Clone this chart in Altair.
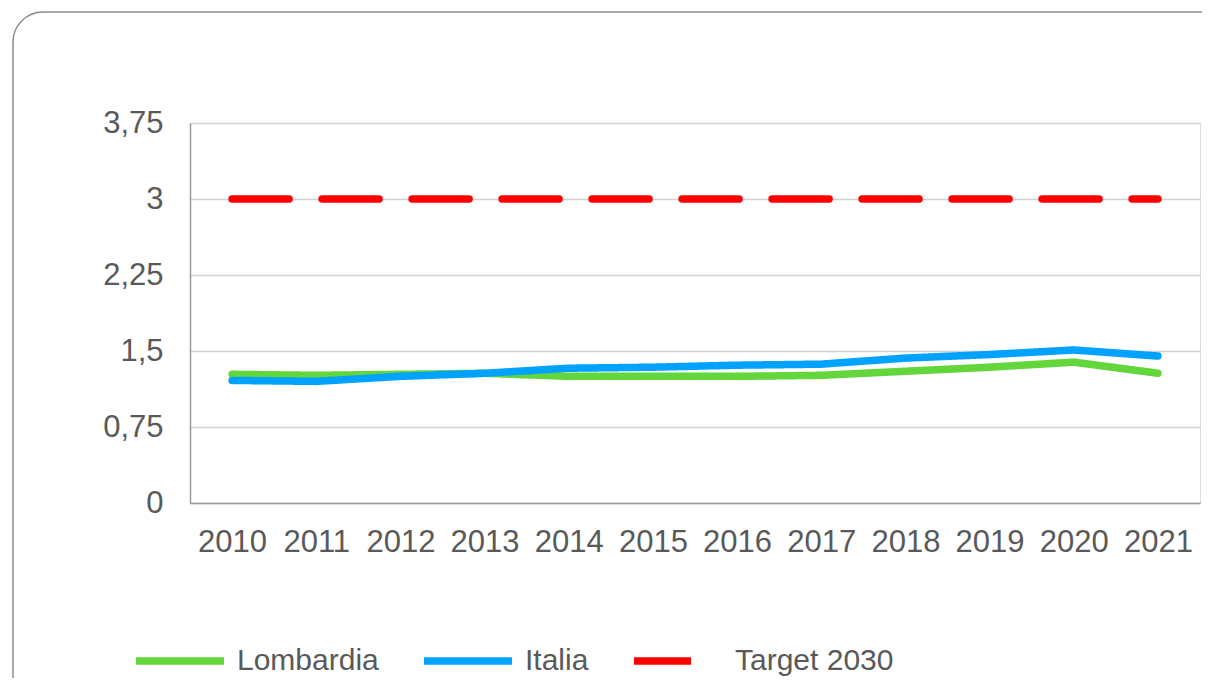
import altair as alt
import pandas as pd

years = ["2010", "2011", "2012", "2013", "2014", "2015", "2016", "2017", "2018", "2019", "2020", "2021"]
lombardia = [1.27, 1.26, 1.27, 1.28, 1.25, 1.25, 1.25, 1.26, 1.30, 1.34, 1.39, 1.28]
italia = [1.21, 1.20, 1.25, 1.28, 1.33, 1.34, 1.36, 1.37, 1.43, 1.465, 1.51, 1.45]
target = [3.0] * 12
series_names = ["Lombardia", "Italia", "Target 2030"]
series_colors = ["#62D63A", "#00A2FF", "#FF0000"]
y_ticks = [0, 0.75, 1.5, 2.25, 3, 3.75]

rows = []
for name, vals in zip(series_names, [lombardia, italia, target]):
    for yr, v in zip(years, vals):
        rows.append({"anno": yr, "valore": v, "serie": name})
df = pd.DataFrame(rows)

FONT = "Liberation Sans"
TXT = "#595959"

lines = alt.Chart(df).mark_line(strokeWidth=7.5, strokeCap="round", strokeJoin="round").encode(
    x=alt.X("anno:O", sort=years, title=None,
            scale=alt.Scale(type="point", padding=0.5),
            axis=alt.Axis(labelAngle=0, ticks=False, labelPadding=24, labelFontSize=31,
                          labelFont=FONT, labelColor=TXT, domainColor="#9a9a9a",
                          domainWidth=1.5, grid=False)),
    y=alt.Y("valore:Q", title=None,
            scale=alt.Scale(domain=[0, 3.75], nice=False),
            axis=alt.Axis(values=y_ticks, ticks=False, labelPadding=27, labelFontSize=31,
                          labelFont=FONT, labelColor=TXT, domainColor="#9a9a9a",
                          domainWidth=1.5, gridColor="#d0d0d0", gridWidth=1.5,
                          labelExpr="replace(toString(datum.value), '.', ',')")),
    color=alt.Color("serie:N", sort=series_names,
                    scale=alt.Scale(domain=series_names, range=series_colors),
                    legend=alt.Legend(title=None, orient="none", direction="horizontal",
                                      legendX=-58, legendY=490,
                                      symbolType="stroke", symbolSize=7744,
                                      symbolStrokeWidth=7.5, labelFontSize=30,
                                      labelFont=FONT, labelColor=TXT, labelOffset=9,
                                      columnPadding=30, labelLimit=400)),
    strokeDash=alt.StrokeDash("serie:N", sort=series_names,
                              scale=alt.Scale(domain=series_names,
                                              range=[[1, 0], [1, 0], [57, 33]]),
                              legend=None),
    order=alt.Order("ord:Q"),
).transform_calculate(
    ord="datum.serie == 'Target 2030' ? 3 : (datum.serie == 'Italia' ? 2 : 1)"
)

frame = alt.Chart(pd.DataFrame({"k": [0]})).mark_rect(
    cornerRadius=30, fillOpacity=0, stroke="#8c8c8c", strokeWidth=1.5
).encode(
    x=alt.value(-177), x2=alt.value(1060), y=alt.value(-111), y2=alt.value(620)
)

chart = alt.layer(frame, lines).properties(
    width=1010, height=380,
    padding={"left": 182, "top": 115, "right": 2, "bottom": 175},
    autosize=alt.AutoSizeParams(type="none"),
).configure_view(stroke=None).configure(background="white")

chart.save("out.html", embed_options={"renderer": "svg", "actions": False})
